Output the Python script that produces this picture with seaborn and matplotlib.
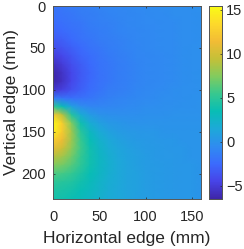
import numpy as np
import pandas as pd
import matplotlib.pyplot as plt
import seaborn as sns
from matplotlib.colors import LinearSegmentedColormap

plt.rcParams['font.family'] = ['Liberation Sans', 'DejaVu Sans']

# parula-like colormap anchors
parula_colors = ['#3e26a8', '#4744e8', '#3b6bfd', '#2f8cf0', '#1da9d8', '#08bdb5', '#37c88f',
                 '#82cb5e', '#c4c038', '#f2bc35', '#fdd92b', '#f9fb15']

# field sampled every 10 mm along the horizontal edge
x_mm = list(range(0, 170, 10))
# one row every 10 mm along the vertical edge
y_mm = list(range(0, 240, 10))
field = [
    [-1.9, -1.7, -1.5, -1.3, -1.2, -1.0, -0.9, -0.8, -0.7, -0.6, -0.5, -0.5, -0.4, -0.4, -0.4, -0.3, -0.3],
    [-2.1, -1.9, -1.7, -1.5, -1.3, -1.1, -1.0, -0.9, -0.8, -0.7, -0.6, -0.5, -0.5, -0.4, -0.4, -0.4, -0.3],
    [-2.4, -2.2, -1.9, -1.7, -1.4, -1.2, -1.1, -1.0, -0.8, -0.7, -0.6, -0.6, -0.5, -0.5, -0.4, -0.4, -0.3],
    [-2.8, -2.5, -2.2, -1.9, -1.6, -1.4, -1.2, -1.0, -0.9, -0.8, -0.7, -0.6, -0.5, -0.5, -0.4, -0.4, -0.3],
    [-3.3, -3.0, -2.5, -2.1, -1.8, -1.5, -1.3, -1.1, -1.0, -0.8, -0.7, -0.6, -0.5, -0.5, -0.4, -0.4, -0.3],
    [-4.0, -3.6, -3.0, -2.5, -2.0, -1.7, -1.4, -1.2, -1.0, -0.9, -0.7, -0.6, -0.5, -0.5, -0.4, -0.3, -0.3],
    [-4.9, -4.3, -3.5, -2.8, -2.3, -1.9, -1.6, -1.3, -1.1, -0.9, -0.8, -0.7, -0.6, -0.5, -0.4, -0.3, -0.3],
    [-5.8, -5.0, -4.0, -3.2, -2.5, -2.0, -1.7, -1.4, -1.2, -1.0, -0.8, -0.7, -0.6, -0.5, -0.4, -0.3, -0.3],
    [-6.4, -5.5, -4.3, -3.4, -2.7, -2.1, -1.7, -1.4, -1.2, -1.0, -0.8, -0.7, -0.6, -0.5, -0.4, -0.3, -0.2],
    [-6.4, -5.6, -4.3, -3.3, -2.6, -2.1, -1.7, -1.4, -1.2, -1.0, -0.8, -0.7, -0.6, -0.5, -0.4, -0.3, -0.2],
    [-5.2, -4.7, -3.8, -3.0, -2.3, -1.9, -1.5, -1.3, -1.1, -0.9, -0.7, -0.6, -0.5, -0.4, -0.3, -0.3, -0.2],
    [-1.5, -1.9, -2.2, -2.1, -1.8, -1.5, -1.2, -1.0, -0.9, -0.7, -0.6, -0.5, -0.4, -0.4, -0.3, -0.2, -0.2],
    [5.5, 3.4, 1.0, -0.3, -0.8, -0.9, -0.8, -0.7, -0.6, -0.5, -0.4, -0.4, -0.3, -0.3, -0.2, -0.2, -0.1],
    [12.5, 9.2, 4.8, 1.9, 0.6, 0.0, -0.2, -0.3, -0.3, -0.3, -0.2, -0.2, -0.2, -0.1, -0.1, -0.1, -0.1],
    [15.3, 12.6, 7.5, 3.8, 1.9, 0.9, 0.4, 0.2, 0.1, 0.0, 0.0, 0.0, 0.0, 0.0, 0.0, 0.0, 0.0],
    [14.6, 12.4, 8.4, 4.9, 2.9, 1.7, 1.0, 0.6, 0.4, 0.3, 0.2, 0.2, 0.1, 0.1, 0.1, 0.1, 0.1],
    [12.6, 11.2, 8.3, 5.5, 3.5, 2.3, 1.5, 1.0, 0.7, 0.5, 0.4, 0.3, 0.2, 0.2, 0.1, 0.1, 0.1],
    [10.8, 9.8, 7.8, 5.6, 3.8, 2.6, 1.8, 1.3, 0.9, 0.7, 0.5, 0.4, 0.3, 0.2, 0.2, 0.1, 0.1],
    [9.0, 8.4, 7.0, 5.3, 3.9, 2.8, 2.0, 1.4, 1.0, 0.8, 0.6, 0.4, 0.3, 0.3, 0.2, 0.1, 0.1],
    [7.4, 7.1, 6.2, 5.0, 3.8, 2.8, 2.1, 1.5, 1.1, 0.8, 0.6, 0.5, 0.4, 0.3, 0.2, 0.2, 0.1],
    [6.0, 5.8, 5.3, 4.4, 3.5, 2.7, 2.0, 1.5, 1.1, 0.9, 0.7, 0.5, 0.4, 0.3, 0.2, 0.2, 0.1],
    [5.0, 4.8, 4.5, 3.9, 3.2, 2.5, 1.9, 1.5, 1.1, 0.9, 0.7, 0.5, 0.4, 0.3, 0.2, 0.2, 0.1],
    [4.4, 4.3, 4.0, 3.5, 3.0, 2.4, 1.8, 1.4, 1.1, 0.9, 0.7, 0.5, 0.4, 0.3, 0.2, 0.2, 0.1],
    [4.0, 3.9, 3.6, 3.2, 2.7, 2.2, 1.7, 1.4, 1.1, 0.8, 0.7, 0.5, 0.4, 0.3, 0.2, 0.2, 0.1],
]

x_ticks = [0, 50, 100, 150]
y_ticks = [0, 50, 100, 150, 200]
cbar_ticks = [-5, 0, 5, 10, 15]
vmin, vmax = -6.5, 15.45

df = pd.DataFrame(field, index=y_mm, columns=x_mm)
parula = LinearSegmentedColormap.from_list('parula', parula_colors, N=256)

fig = plt.figure(figsize=(2.44, 2.49), dpi=100)
ax = fig.add_axes([53 / 244, 1 - 199 / 249, 148 / 244, 193 / 249])
cax = fig.add_axes([209 / 244, 1 - 199 / 249, 12.5 / 244, 193 / 249])

sns.heatmap(df, ax=ax, cbar_ax=cax, cmap=parula, vmin=vmin, vmax=vmax, shading='gouraud',
            xticklabels=False, yticklabels=False, cbar_kws={'ticks': cbar_ticks})

ink = '#262626'
edge = '#555555'
# mesh nodes sit on integer positions, one per 10 mm
ax.set_xlim(0, 16)
ax.set_ylim(23, 0)
ax.set_xticks([v / 10 for v in x_ticks], labels=[str(v) for v in x_ticks])
ax.set_yticks([v / 10 for v in y_ticks], labels=[str(v) for v in y_ticks])
ax.tick_params(direction='in', length=1.5, width=0.5, color=ink, labelcolor=ink, labelsize=10.5,
               top=True, right=True)
ax.tick_params(axis='x', pad=8)
ax.tick_params(axis='y', pad=5)
for s in ax.spines.values():
    s.set_visible(True)
    s.set_linewidth(0.7)
    s.set_color(edge)
ax.set_xlabel('Horizontal edge (mm)', fontsize=12.5, color=ink, labelpad=5)
ax.set_ylabel('Vertical edge (mm)', fontsize=12.5, color=ink, labelpad=2)

cax.tick_params(direction='in', length=1.5, width=0.5, color=ink, labelcolor=ink, labelsize=10.5, pad=3.5)
for s in cax.spines.values():
    s.set_visible(True)
    s.set_linewidth(0.7)
    s.set_color(edge)

fig.savefig('out.png', dpi=100)
